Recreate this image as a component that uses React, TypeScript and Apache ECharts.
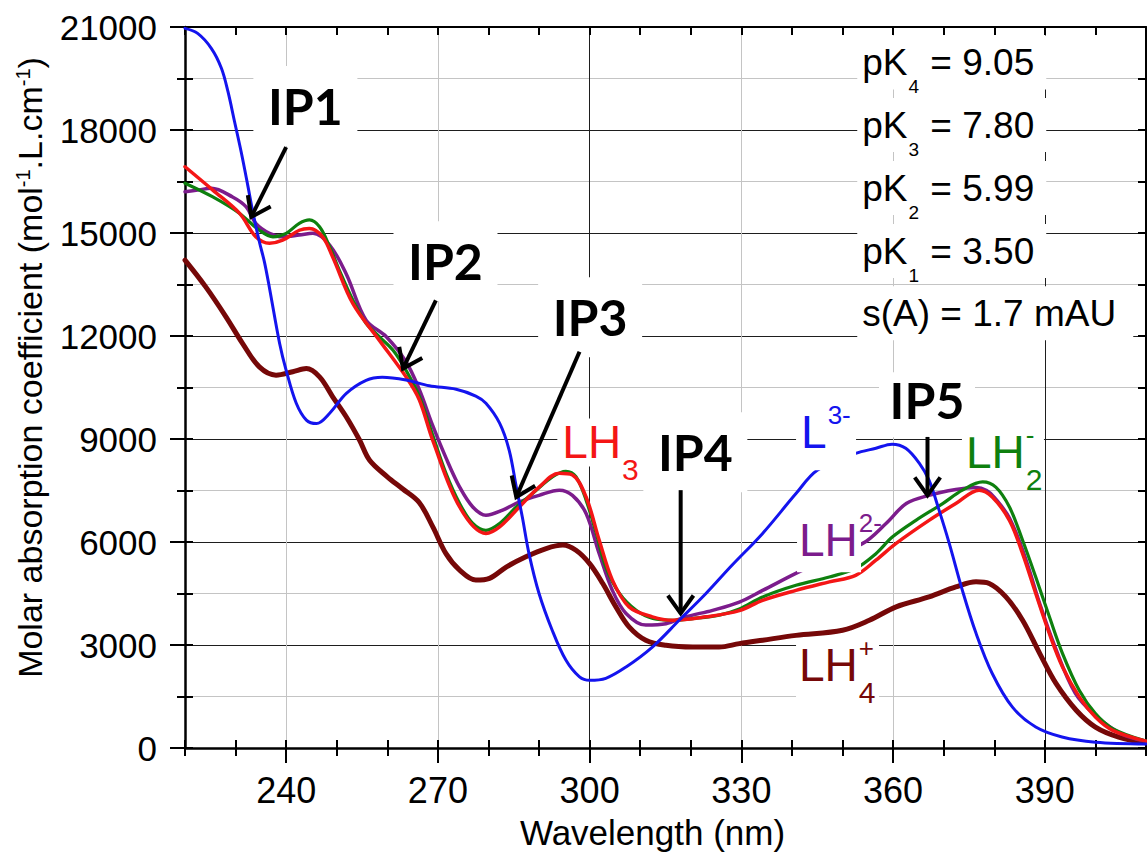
import React, { useEffect, useRef } from "react";
import * as echarts from "echarts";

const SANS = '"Liberation Sans", Arial, Helvetica, sans-serif';
const BOLD = 'Lato, "Liberation Sans", Arial, sans-serif';

// ---------- axes ----------
const xMin = 220;
const xMax = 410;
const xStep = 10;
const xMajorTicks = [240, 270, 300, 330, 360, 390];
const yMin = 0;
const yMax = 21000;
const yStep = 1500;
const yMajorStep = 3000;

// ---------- spectra (wavelength nm, molar absorption coefficient) ----------
const L3minus: number[][] = [
  [220, 20960], [222.5, 20815], [225.2, 20380], [227.2, 19800], [228.5, 19115], [229.8, 18240],
  [231.1, 17365], [232.4, 16395], [233.4, 15620], [234.7, 14745], [235.7, 14160], [236.7, 13400],
  [238.7, 11790], [240, 11000], [242, 10040],
  [244, 9550], [246, 9450], [248.6, 9750], [251.9, 10330], [255.8, 10710], [259, 10800],
  [263.7, 10720], [268.3, 10550], [273.6, 10450], [277.5, 10250], [279.5, 10040], [282.2, 9460],
  [284.1, 8670], [285.5, 7600], [286.7, 6720], [288, 5670], [290, 4500], [292.6, 3430],
  [295.3, 2560], [298, 2070], [300, 1970], [303.2, 2030], [307.2, 2360], [312.4, 2940],
  [317.7, 3720], [323, 4500], [328, 5300], [334.2, 6250], [340.8, 7410], [345, 8090],
  [352.6, 8580], [356.6, 8730], [359.8, 8850], [362.5, 8730], [365.2, 8290], [367.1, 7800],
  [369.1, 6920], [371.1, 5960], [373.7, 4590], [376.4, 3340], [379.6, 2170], [383.6, 1190],
  [388.2, 610], [393.4, 320], [400, 170], [410, 120],
];

const LH2minus: number[][] = [
  [220, 16450], [225.5, 16050], [230.8, 15570], [234.7, 15080], [237.4, 14890], [240, 14990],
  [242.6, 15280], [244.6, 15380], [246.6, 15180], [248.6, 14600], [250.5, 13920], [253.2, 13040],
  [255.8, 12370], [258.4, 11980], [261.1, 11590], [263.7, 11000], [266.3, 10250], [269, 9100],
  [271.6, 8000], [274.3, 7120], [276.9, 6540], [279.5, 6340], [282.2, 6540], [285.5, 7020],
  [288.7, 7410], [292.7, 7900], [295.3, 8060], [297.3, 7900], [299.3, 7220], [301.3, 6250],
  [303.2, 5270], [305.9, 4500], [309.2, 4010], [312.5, 3770], [316.4, 3720], [320.4, 3770],
  [325.6, 3870], [329.6, 4050], [334.2, 4400], [340.8, 4740], [347.4, 4980], [352.6, 5230],
  [356.6, 5660], [359.9, 6150], [364.5, 6630], [369.8, 7120], [373.7, 7510], [377.7, 7750],
  [380.3, 7600], [383, 7020], [385.6, 6050], [388.2, 4980], [390.9, 3820], [393.5, 2750],
  [396.8, 1680], [400, 1000], [403.4, 565], [410, 200],
];

const LH3: number[][] = [
  [220, 16930], [225.5, 16250], [230.8, 15570], [234, 14890], [236.7, 14700], [239.3, 14790],
  [242.6, 15080], [244.6, 15130], [247.2, 14890], [249.2, 14300], [253.2, 12940], [258.4, 11880],
  [263.7, 10810], [266.3, 10150], [269, 8950], [274.3, 7020], [279.5, 6250], [282.2, 6440],
  [286.1, 7020], [290, 7600], [294, 8000], [296.6, 7950], [299.3, 7310], [301.9, 6050],
  [304.5, 4890], [307.8, 4110], [312.4, 3820], [316.4, 3720], [323, 3820], [329.6, 4000],
  [334.2, 4300], [340.8, 4590], [347.4, 4840], [352.6, 5030], [356.6, 5470], [360.6, 5960],
  [367.1, 6630], [372.4, 7120], [377, 7510], [379.6, 7310], [383, 6630], [385.6, 5660],
  [388.2, 4500], [390.9, 3330], [393.5, 2360], [396.8, 1490], [400, 900], [403.4, 515],
  [410, 200],
];

const LH2minus2: number[][] = [
  [220, 16200], [222.5, 16250], [225.2, 16300], [229.4, 16050], [232.1, 15760], [234, 15280],
  [236.7, 14990], [239.3, 14890], [242.6, 14940], [245.3, 14990], [248.6, 14650], [251.9, 13800],
  [255.8, 12460], [259.8, 11980], [263.7, 11250], [266.3, 10450], [269, 9380], [271.6, 8450],
  [274.3, 7600], [276.9, 7020], [279.5, 6780], [282.8, 6930], [286.1, 7170], [290, 7360],
  [294, 7510], [296.6, 7360], [299.3, 6830], [301.9, 5660], [304.5, 4590], [307.2, 3920],
  [311.1, 3580], [315.1, 3620], [319, 3820], [324.3, 4010], [329.6, 4250], [334.2, 4590],
  [342.1, 5180], [354, 5960], [358.6, 6540], [362.6, 7120], [367.1, 7360], [372.4, 7530],
  [376.4, 7590], [378.5, 7500], [380, 7300], [383, 6700], [386, 5600], [389, 4200],
  [392, 2950], [396, 1600], [400, 950], [405, 420], [410, 200],
];

const LH4plus: number[][] = [
  [220, 14210], [224.1, 13430], [228.1, 12560], [231.4, 11780], [234.7, 11100], [238, 10860],
  [241.3, 10960], [244, 11050], [246.6, 10810], [249.2, 10230], [251.9, 9640], [254.5, 8970],
  [256.5, 8380], [260, 7900], [263, 7550], [266.3, 7150], [269, 6440], [271.6, 5660],
  [274.3, 5180], [277.5, 4890], [280.2, 4940], [283.5, 5270], [287.4, 5570], [291.4, 5810],
  [294.7, 5910], [297.3, 5760], [300, 5370], [302.6, 4790], [305.2, 4110], [307.8, 3530],
  [311.1, 3140], [315.1, 2990], [320.4, 2940], [325.6, 2940], [329.6, 3040], [334.2, 3140],
  [340.8, 3280], [350, 3430], [355.3, 3720], [360.6, 4110], [367.1, 4400], [372.4, 4690],
  [376.4, 4840], [379, 4790], [382.3, 4400], [385.6, 3720], [389, 2750], [392.2, 1880],
  [396.2, 1100], [400, 610], [404.6, 320], [410, 150],
];

// ---------- isosbestic points & annotations (data coordinates) ----------
const ipNames = ["IP1", "IP2", "IP3", "IP4", "IP5"];
const ipPoints = [[233.1, 15470], [263.1, 11050], [285.5, 7310], [318, 3920], [366.8, 7360]];
const ipTails = [[240, 17500], [269.6, 13040], [298, 11540], [318, 7510], [366.8, 9060]];
const ipLabelAt = [[243.8, 18700], [271.5, 14175], [300.1, 12543], [320.9, 8616], [366.7, 10131]];

const pKSubs = ["4", "3", "2", "1"];
const pKValues = ["9.05", "7.80", "5.99", "3.50"];
const pKRowAt = [[353.9, 19965], [353.9, 18144], [353.9, 16308], [353.9, 14473]];
const noiseText = "s(A) = 1.7 mAU";
const noiseAt = [353.9, 12666];

const C_BLUE = "#1414ee";
const C_GREEN = "#0e800e";
const C_RED = "#f41616";
const C_PURPLE = "#7c1c8c";
const C_DARK = "#760808";

const speciesLabels = [
  { main: "LH", sub: "3", sup: "", color: C_RED, at: [294.6, 8900], box: [-5, -24, 87, 48] },
  { main: "L", sub: "", sup: "3-", color: C_BLUE, at: [341.8, 9200], box: [-5, -32, 60, 70] },
  { main: "LH", sub: "2", sup: "-", color: C_GREEN, at: [374.4, 8616], box: [-4, -24, 82, 48] },
  { main: "LH", sub: "", sup: "2-", color: C_PURPLE, at: [341.4, 6052], box: [-2, -32, 64, 64] },
  { main: "LH", sub: "4", sup: "+", color: C_DARK, at: [341.4, 2410], box: [-3, -25, 83, 68] },
];

let measureCtx: CanvasRenderingContext2D | null = null;
function textWidth(t: string, size: number, family: string, weight = "normal") {
  if (!measureCtx) measureCtx = document.createElement("canvas").getContext("2d");
  if (!measureCtx) return t.length * size * 0.55;
  measureCtx.font = `${weight} ${size}px ${family}`;
  return measureCtx.measureText(t).width;
}

function txt(x: number, y: number, text: string, size: number, color: string, z: number, opts: any = {}) {
  const align = opts.align || "left";
  return {
    type: "text",
    x,
    y,
    z,
    silent: true,
    style: {
      text,
      fontSize: size,
      fontFamily: opts.family || SANS,
      fontWeight: opts.weight || "normal",
      fill: color,
      align,
      verticalAlign: "middle",
      textAlign: align,
      textVerticalAlign: "middle",
    },
  };
}

function rect(x: number, y: number, w: number, h: number, z: number) {
  return { type: "rect", z, silent: true, shape: { x, y, width: w, height: h }, style: { fill: "#ffffff" } };
}

function buildGraphics(chart: echarts.ECharts) {
  const px = (p: number[]) => chart.convertToPixel({ seriesIndex: 0 }, p) as number[];
  const els: any[] = [];

  // isosbestic point labels and arrows
  ipNames.forEach((name, i) => {
    const c = px(ipLabelAt[i]);
    if (i === 4) els.push(rect(c[0] - 48, c[1] - 28, 96, 65, 60));
    else els.push(rect(c[0] - 52, c[1] - 40, 104, 80, 60));
    els.push(txt(c[0], c[1], name, 50, "#000", 61, { align: "center", family: BOLD, weight: "bold" }));
    const a = px(ipTails[i]);
    const b = px(ipPoints[i]);
    els.push({
      type: "line", z: 62, silent: true,
      shape: { x1: a[0], y1: a[1], x2: b[0], y2: b[1] },
      style: { stroke: "#000", lineWidth: 4 },
    });
    const ang = Math.atan2(a[1] - b[1], a[0] - b[0]);
    const L = 22;
    const h = 0.62;
    els.push({
      type: "polyline", z: 62, silent: true,
      shape: {
        points: [
          [b[0] + L * Math.cos(ang + h), b[1] + L * Math.sin(ang + h)],
          [b[0], b[1]],
          [b[0] + L * Math.cos(ang - h), b[1] + L * Math.sin(ang - h)],
        ],
      },
      style: { stroke: "#000", lineWidth: 4, fill: "none", lineJoin: "miter" },
    });
  });

  // species labels
  const MAIN = 46;
  const SUB = 30;
  const SUP = 26;
  speciesLabels.forEach((s) => {
    const p = px(s.at);
    const [bx, by, bw, bh] = s.box;
    els.push(rect(p[0] + bx, p[1] + by, bw, bh, 55));
    els.push(txt(p[0], p[1], s.main, MAIN, s.color, 56));
    const w = textWidth(s.main, MAIN, SANS) + 1;
    if (s.sub) els.push(txt(p[0] + w, p[1] + 27, s.sub, SUB, s.color, 56));
    if (s.sup) els.push(txt(p[0] + w, p[1] - 17, s.sup, SUP, s.color, 56));
  });

  // pK block
  const F = 37;
  const FS = 19;
  pKSubs.forEach((sub, i) => {
    const p = px(pKRowAt[i]);
    els.push(rect(p[0] - 5, p[1] - 27, 189, 54, 55));
    els.push(txt(p[0], p[1], "pK", F, "#000", 56));
    const w1 = textWidth("pK", F, SANS);
    els.push(txt(p[0] + w1 + 1, p[1] + 24, sub, FS, "#000", 56));
    const w2 = textWidth(sub, FS, SANS);
    els.push(txt(p[0] + w1 + w2 + 2, p[1], " = " + pKValues[i], F, "#000", 56));
  });
  const q = px(noiseAt);
  els.push(rect(q[0] - 5, q[1] - 27, 276, 54, 55));
  els.push(txt(q[0], q[1], noiseText, F, "#000", 56));

  return els;
}

function hiddenAxis(extra: any) {
  return {
    type: "value",
    axisLine: { show: false, onZero: false },
    axisLabel: { show: false },
    splitLine: { show: false },
    ...extra,
  };
}

export default function App() {
  const ref = useRef<HTMLDivElement>(null);

  useEffect(() => {
    if (!ref.current) return;
    const chart = echarts.init(ref.current, null, { renderer: "svg" });
    const gridRect = { left: 185, top: 27, width: 961, height: 721, containLabel: false, outerBoundsMode: "none" };
    const tickStyle = { color: "#000", width: 2 };

    const mkSeries = (name: string, data: number[][], color: string, width: number) => ({
      name,
      type: "line",
      data,
      xAxisIndex: 0,
      yAxisIndex: 0,
      smooth: 0.35,
      showSymbol: false,
      symbol: "none",
      lineStyle: { color, width, cap: "round", join: "round" },
      itemStyle: { color },
      emphasis: { disabled: true },
    });

    const option: any = {
      animation: false,
      backgroundColor: "#ffffff",
      grid: [{ ...gridRect }, { ...gridRect }, { ...gridRect }],
      xAxis: [
        {
          type: "value",
          gridIndex: 0,
          position: "bottom",
          min: xMin,
          max: xMax,
          interval: xStep,
          axisLine: { show: true, onZero: false, lineStyle: { color: "#000", width: 2.5 } },
          axisTick: { show: true, inside: false, length: 15, customValues: xMajorTicks, lineStyle: tickStyle },
          axisLabel: {
            show: true,
            margin: 24,
            fontSize: 36,
            fontFamily: SANS,
            color: "#000",
            formatter: (v: number) => (xMajorTicks.indexOf(v) >= 0 ? String(v) : ""),
          },
          splitLine: { show: true, lineStyle: { color: ["#c4c4c4", "#c4c4c4", "#1e1e1e"], width: 1 } },
          name: "Wavelength (nm)",
          nameLocation: "middle",
          nameGap: 67,
          nameTextStyle: { fontSize: 35, fontFamily: SANS, color: "#000", padding: [0, 26, 0, 0] },
        },
        hiddenAxis({
          gridIndex: 0, position: "top", min: xMin, max: xMax, interval: xStep,
          axisLine: { show: true, onZero: false, lineStyle: { color: "#000", width: 2 } },
          axisTick: { show: true, inside: true, length: 8, lineStyle: tickStyle },
        }),
        hiddenAxis({
          gridIndex: 1, position: "bottom", min: xMin, max: xMax, interval: xStep,
          axisTick: { show: true, inside: true, length: 8, lineStyle: tickStyle },
        }),
        hiddenAxis({
          gridIndex: 2, position: "bottom", min: xMin, max: xMax, interval: xStep,
          axisTick: { show: true, inside: false, length: 8, lineStyle: tickStyle },
        }),
      ],
      yAxis: [
        {
          type: "value",
          gridIndex: 0,
          position: "left",
          min: yMin,
          max: yMax,
          interval: yStep,
          axisLine: { show: true, onZero: false, lineStyle: { color: "#000", width: 2.5 } },
          axisTick: { show: true, inside: false, length: 8, lineStyle: tickStyle },
          axisLabel: {
            show: true,
            margin: 28,
            fontSize: 35,
            fontFamily: SANS,
            color: "#000",
            formatter: (v: number) => (v % yMajorStep === 0 ? String(v) : ""),
          },
          splitLine: { show: true, lineStyle: { color: ["#1e1e1e", "#c4c4c4"], width: 1 } },
          name: "Molar absorption coefficient (mol{sup|-1}.L.cm{sup|-1})",
          nameLocation: "middle",
          nameRotate: 90,
          nameGap: 138,
          nameTextStyle: {
            fontSize: 34,
            fontFamily: SANS,
            color: "#000",
            padding: [0, 0, 0, 40],
            rich: { sup: { fontSize: 20, fontFamily: SANS, color: "#000", verticalAlign: "top" } },
          },
        },
        hiddenAxis({
          gridIndex: 0, position: "right", min: yMin, max: yMax, interval: yStep,
          axisLine: { show: true, onZero: false, lineStyle: { color: "#000", width: 2 } },
          axisTick: { show: true, inside: true, length: 8, lineStyle: tickStyle },
        }),
        hiddenAxis({
          gridIndex: 1, position: "left", min: yMin, max: yMax, interval: yStep,
          axisTick: { show: true, inside: true, length: 8, lineStyle: tickStyle },
        }),
        hiddenAxis({
          gridIndex: 2, position: "left", min: yMin, max: yMax, interval: yMajorStep,
          axisTick: { show: true, inside: false, length: 15, lineStyle: tickStyle },
        }),
      ],
      series: [
        mkSeries("LH4+", LH4plus, C_DARK, 5),
        mkSeries("LH2^2-", LH2minus2, C_PURPLE, 3.5),
        mkSeries("LH2-", LH2minus, C_GREEN, 3.2),
        mkSeries("LH3", LH3, C_RED, 3.5),
        mkSeries("L3-", L3minus, C_BLUE, 3),
      ],
    };

    chart.setOption(option);
    chart.setOption({ graphic: { elements: buildGraphics(chart) } });

    return () => {
      chart.dispose();
    };
  }, []);

  return (
    <div
      ref={ref}
      style={{ position: "absolute", left: 0, top: 0, width: 1147, height: 855, background: "#fff" }}
    />
  );
}
